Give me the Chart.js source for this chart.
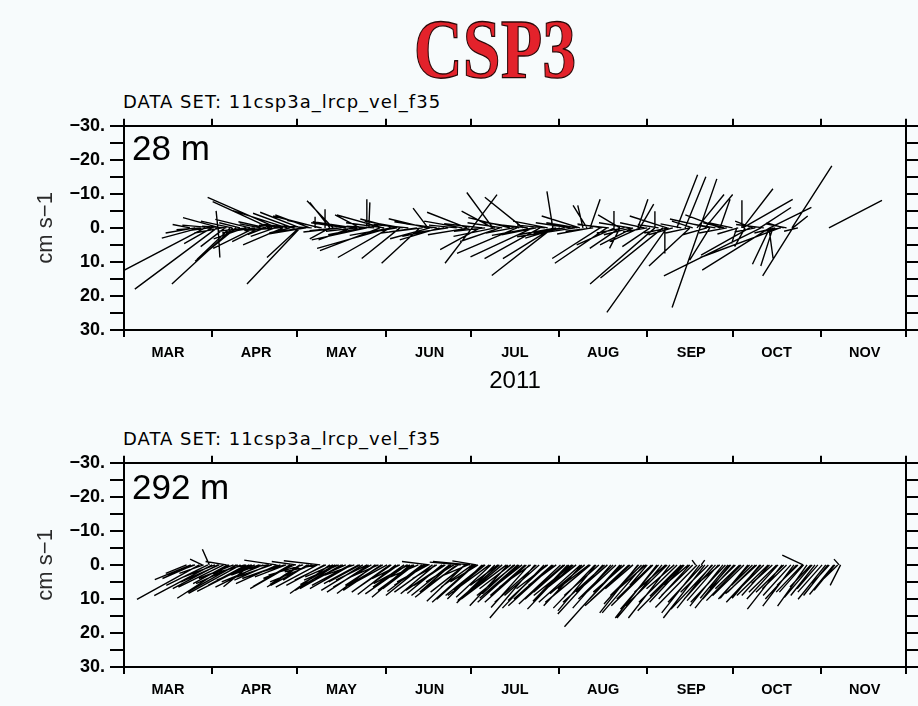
<!DOCTYPE html>
<html>
<head>
<meta charset="utf-8">
<script src="https://cdn.jsdelivr.net/npm/chart.js@4.4.1/dist/chart.umd.min.js"></script>
<style>
html,body{margin:0;padding:0;background:#f7fbfc;}
#page{position:relative;width:918px;height:706px;overflow:hidden;background:#f7fbfc;}
.abs{position:absolute;white-space:nowrap;margin:0;}
#title{left:495px;top:8px;font-family:"Liberation Serif",serif;font-weight:bold;font-size:84px;line-height:84px;color:#e3222b;-webkit-text-stroke:1.3px #2a0808;transform:translateX(-50%) scaleX(0.81);transform-origin:50% 50%;}
.ds{left:123px;font-family:"DejaVu Sans",sans-serif;font-size:18px;line-height:18px;letter-spacing:1px;color:#000;font-weight:normal;}
.depth{left:132px;font-family:"Liberation Sans",Arial,sans-serif;font-size:35px;line-height:35px;color:#000;}
#year{left:515px;top:368px;transform:translateX(-50%);font-family:"Liberation Sans",Arial,sans-serif;font-size:24px;line-height:24px;color:#000;}
canvas{position:absolute;left:0;}
</style>
</head>
<body>
<div id="page">
  <div id="title" class="abs">CSP3</div>
  <div class="abs ds" style="top:93px;">DATA SET: 11csp3a_lrcp_vel_f35</div>
  <div class="abs ds" style="top:430px;">DATA SET: 11csp3a_lrcp_vel_f35</div>
  <canvas id="c1" width="918" height="258" style="top:110px;"></canvas>
  <canvas id="c2" width="918" height="258" style="top:447px;"></canvas>
  <div class="abs depth" style="top:130px;">28 m</div>
  <div class="abs depth" style="top:469px;">292 m</div>
  <div id="year" class="abs">2011</div>
</div>
<script>
// ---- axis definitions (days since 1 Mar 2011) ----
const monthStarts = [0, 31, 61, 92, 122, 153, 184, 214, 245, 275];
const monthLabels = ['MAR','APR','MAY','JUN','JUL','AUG','SEP','OCT','NOV'];
const yTickValues = [-30,-25,-20,-15,-10,-5,0,5,10,15,20,25,30];

// ---- 28 m : stick base day, u (cm/s), v (cm/s, axis units) ----
const topDay = [
28.5,32.7,38.3,61.9,26.7,33.8,53.8,51.3,57.3,61.9,
68.9,33.0,33.1,37.3,55.9,61.5,72.4,30.9,35.5,42.5,
39.4,46.0,47.8,25.0,23.2,40.8,44.3,59.4,65.4,49.6,
53.1,58.4,72.4,73.5,67.2,70.7,85.4,86.1,91.1,85.4,
93.5,90.0,93.5,97.0,104.0,106.9,106.5,120.6,125.2,122.4,
122.4,129.7,140.3,150.8,150.8,138.2,143.8,146.3,150.8,167.4,
169.8,186.7,190.9,162.8,161.4,163.9,160.3,174.4,129.7,135.7,
95.3,83.0,80.0,107.6,111.0,132.2,153.3,158.6,172.6,174.4,
181.4,234.9,247.9,194.4,197.3,202.5,202.5,201.5,204.3,209.6,
217.3,217.6,217.6,223.6,227.1,235.2,180.7,181.4,186.7,190.9,
206.0,209.6,172.3,189.5,199.0,224.0,230.7,227.1,206.0,190.2,
227.1,228.2,235.2,226.8,215.5,218.4,185.0,174.4,179.0,220.0,
30,36,43,48,52,56,63,66,75,78,
82,88,96,100,103,110,114,117,127,133,
137,142,145,148,155,157,165,168,176,178,
184,188,193,196,199,208,212,214,222,225,
231,233,
27,31.5,34.5,38,45.5,50,54.5,60,64,69.5,
76.5,81,84,91.5,94,98,105,108.5,112.5,119,
121.5,126,130.5,139,144,149,152,159.5,164.5,170.5,
178.5,183,191.5,200,205,211,216,221,229,232,
237];
const topU = [
-23.4,-23.7,-17.6,-15.3,-11.0,-10.7,-20.0,-16.5,-15.6,-11.5,
-13.5,-0.5,0.5,-9.5,-11.5,-9.2,-5.8,-8.0,-7.0,-9.0,
-11.8,-12.0,-8.0,-8.5,-5.0,-6.0,-10.0,-11.5,-10.0,-5.0,
-7.0,-6.0,-5.8,-7.5,0.0,0.0,0.0,0.3,-13.3,-15.9,
-21.0,-17.3,-15.0,-11.0,-11.0,-4.3,-11.0,-11.5,-11.5,7.2,
-7.8,-7.5,-11.0,-1.7,-17.6,-17.3,-18.0,-16.0,-14.4,-13.8,
-15.0,-18.7,-17.3,-4.0,-1.5,2.9,-11.0,-6.3,-9.0,-12.0,
-10.0,-7.2,-9.5,-11.5,-11.5,-11.5,-10.0,-16.7,-11.0,-8.7,
-8.7,11.5,15.3,6.0,6.0,4.9,-8.0,7.8,8.0,2.9,
0.0,8.7,14.4,9.0,12.0,4.3,2.9,4.0,0.0,-10.7,
-11.5,-10.0,0.0,-18.0,-11.8,-28.0,-23.0,-19.5,-5.8,0.0,
-5.0,-3.5,-8.7,1.2,-1.5,-3.0,-8.0,-3.0,-9.5,-14.0,
-6,-7,-8,-6,-9,-7,-8,-9,-8,-10,
-9,-8,-9,-10,-8,-9,-10,-8,-9,-10,
-8,-9,-10,-8,-9,-10,-8,-7,-8,-9,
-7,-6,-7,-6,-7,-6,-8,-7,-6,-8,
-5,-6,
-7,-9,-8,-9,-9,-8,-10,-9,-11,-10,
-11,-12,-10,-11,-12,-11,-12,-11,-12,-11,
-12,-11,-12,-11,-12,-10,-11,-9,-10,-9,
-8,-7,-7,-6,-7,-6,-6,-5,-6,-5,
-4];
const topV = [
12.5,18.0,16.5,16.5,3.0,-3.0,-9.0,-7.7,-5.1,-4.6,
-3.5,-5.0,8.7,9.2,5.0,8.7,-7.5,4.6,5.5,3.2,
9.8,6.0,4.0,1.5,-1.0,-1.5,-2.5,-4.3,-3.8,2.0,
2.5,1.5,3.2,-8.0,-3.3,-5.5,-8.4,-7.5,-3.8,3.5,
6.0,6.7,8.7,9.0,10.4,-5.8,-2.7,-4.6,6.4,-9.8,
10.4,-10.4,-9.0,-10.7,14.0,7.5,8.5,9.0,9.0,9.0,
10.4,16.5,24.8,-6.6,-6.6,-8.4,-3.5,-3.8,-4.9,-3.0,
-2.6,-3.8,3.5,3.2,3.5,4.0,3.0,2.6,5.0,6.0,
4.0,-18.2,-8.1,-15.6,-15.0,-14.4,23.4,-9.8,-9.8,-8.4,
-8.1,-11.5,-8.4,-6.0,-6.0,-3.5,-8.4,-7.0,-4.9,-3.5,
-2.6,-3.8,-5.0,14.7,11.2,14.1,8.7,12.4,9.5,7.5,
10.7,11.2,14.1,9.0,4.6,5.5,5.5,6.0,5.0,8.0,
0.8,-0.5,1.0,-1.2,0.5,-0.8,1.2,-0.6,0.8,-1.5,
1.0,-0.5,1.5,-1.0,1.2,-1.2,1.5,-0.8,1.0,-1.5,
1.5,-1.0,2.0,-0.8,1.5,-1.5,1.0,-1.2,1.5,-1.5,
1.2,-1.0,2.0,-1.2,1.5,-1.0,1.5,-1.5,1.2,-1.0,
1.0,-1.2,
0.5,-0.8,1.5,-2,1.5,-1.8,0.8,-1,1.8,-2.2,
1.2,-1.8,2,-1.5,2.2,-2,1.5,-1.8,2.5,-2,
2,-1.2,2.5,-1.8,2.2,-2,2,-1.5,1.8,-1,
2,-1.5,1.5,-2,2,-1.5,1.8,-2,1.5,-1.5,
1.0];

// ---- 292 m ----
const botDay = [
22.0,23.5,25.0,26.5,27.5,30.0,29.5,31.0,32.0,33.5,
35.0,37.0,38.5,40.0,41.0,42.5,44.0,44.5,46.0,47.5,
49.0,50.5,52.0,53.5,55.0,56.5,58.4,60.0,61.9,63.0,
64.5,66.0,67.5,69.0,70.5,72.4,73.5,74.2,75.5,76.5,
78.0,79.5,81.0,82.5,84.0,85.5,87.0,88.3,89.5,91.0,
92.5,94.0,95.6,97.0,98.5,100.0,100.6,102.0,103.5,104.8,
106.0,107.5,108.5,110.0,111.8,113.0,114.5,116.0,117.5,118.5,
119.9,121.0,122.5,123.4,124.5,125.9,127.0,128.5,130.4,131.5,
133.0,134.5,136.0,137.5,138.5,140.0,141.5,143.0,144.5,146.0,
147.7,149.0,150.5,152.0,153.5,155.0,156.0,157.5,159.0,160.5,
162.0,163.5,165.6,167.0,168.4,170.0,171.2,173.0,174.4,176.0,
177.5,179.0,180.7,182.0,182.8,184.0,185.5,187.4,189.2,190.5,
192.0,193.5,195.9,197.0,198.5,200.0,201.0,202.5,203.0,204.3,
205.5,206.7,208.0,209.5,210.6,212.4,213.0,213.4,215.0,216.5,
218.0,219.4,221.0,222.5,223.6,225.0,226.5,228.0,229.5,231.4,
233.0,234.5,235.6,237.0,238.5,238.8,240.2,241.5,243.0,245.5,
246.8,248.0,249.6,251.0,251.5,121.7,124.0,252.0,36.0,60.5,
24.5,28,33,36.5,39.5,43,45,48,51,54,
57,59,62.5,65,68,71,74.8,77,80,83,
86,88.8,90.5,93.5,96.5,99.5,101.5,105.5,107,109.5,
112.5,115,117,120,123,126.5,129,132,135,137,
139,141,142.5,145,148.5,151,154.5,156.5,158,161,
164,166,169,172,175,178,181,183.5,186,188,
191,194.5,196.5,199,201.5,203.5,207,209,211.5,214.5,
217,220,222,224,227,230,232,236.5,239,242,
244,247.5,250];
const botU = [
-6.0,-10.4,-8.0,-18.0,-3.5,-2.0,-12.0,-16.7,-9.0,-11.0,
-13.0,-15.0,-10.0,-12.0,-15.0,-9.0,-15.0,-7.8,-11.0,-8.0,
-12.0,-9.0,-10.0,-9.2,-11.0,-8.0,-10.7,-9.0,-8.7,-10.0,
-7.0,-12.0,-9.0,-10.5,-11.0,-11.5,-8.0,-10.0,-10.0,-12.0,
-9.0,-11.0,-8.5,-10.0,-12.0,-9.0,-11.0,-11.0,-8.0,-10.0,
-9.0,-10.0,-11.0,-8.0,-9.0,-10.0,-11.0,-9.0,-8.0,-10.0,
-9.0,-8.0,-11.0,-7.0,-10.0,-9.0,-11.0,-8.0,-10.0,-9.0,
-11.0,-7.0,-9.0,-11.0,-8.0,-10.0,-9.0,-12.0,-11.0,-8.0,
-10.0,-13.0,-9.0,-11.0,-11.0,-10.0,-12.0,-9.0,-13.0,-10.0,
-12.0,-9.0,-11.0,-8.0,-12.0,-9.0,-10.0,-11.0,-8.0,-12.0,
-10.0,-9.0,-12.0,-10.0,-13.0,-9.0,-11.0,-10.0,-16.0,-9.0,
-11.0,-8.0,-11.0,-9.0,-12.0,-5.0,-10.0,-12.0,-13.0,-9.0,
-12.0,-8.0,-9.0,-10.0,-7.0,-9.0,-1.0,-11.0,1.0,-12.0,
-8.0,-10.0,-9.0,-7.0,-9.5,-8.0,-10.0,-6.0,-8.0,-7.0,
-9.0,-8.0,-6.0,-9.0,-8.0,-7.0,-9.0,-6.0,-8.0,-10.0,
-7.0,-8.0,-9.0,-6.0,-7.5,-6.0,-8.5,-6.0,-7.0,-7.0,
-8.0,-5.0,-7.0,-4.0,-1.5,-10.7,-7.0,-3.0,-6.0,-7.0,
-9,-7,-13,-10,-14,-11,-9,-13,-10,-12,
-9,-12,-10,-11,-12,-9,-12,-10,-12,-9,
-12,-9,-11,-11,-9,-12,-10,-11,-9,-10,
-11,-9,-12,-10,-12,-11,-10,-12,-11,-9,
-12,-10,-11,-12,-11,-13,-11,-12,-10,-11,
-13,-11,-12,-10,-12,-13,-10,-9,-12,-11,
-12,-11,-13,-9,-12,-10,-12,-9,-10,-9,
-10,-9,-8,-10,-8,-9,-8,-9,-7,-8,
-6,-7,-6];
const botV = [
2.5,4.3,3.0,10.1,-1.7,-4.6,6.0,9.0,3.5,5.0,
6.5,9.8,4.0,5.5,8.4,2.5,7.8,6.4,4.5,3.0,
5.0,1.5,3.5,-1.4,4.0,2.5,6.4,4.0,5.8,3.0,
4.5,5.0,2.0,-1.2,6.0,8.4,3.5,5.8,4.5,7.0,
4.0,6.0,3.0,5.5,7.5,4.5,6.5,8.4,3.5,6.0,
5.0,7.0,8.7,4.0,6.5,5.5,9.5,7.0,3.5,7.8,
6.0,-1.0,8.0,4.0,8.4,6.0,9.0,5.0,7.0,-0.8,
10.7,3.0,6.5,10.1,5.0,10.0,7.5,9.0,11.2,6.0,
8.5,10.0,7.0,9.0,9.8,8.0,11.0,6.5,15.6,9.0,
12.7,7.0,10.0,6.0,11.5,8.0,10.7,9.0,6.5,11.0,
8.5,7.0,12.7,9.0,14.4,8.0,12.7,9.5,18.2,8.0,
10.5,7.0,14.1,9.0,14.1,6.0,10.0,15.6,15.6,8.0,
15.6,7.0,9.2,11.0,6.0,9.0,-1.4,14.1,-1.4,15.6,
8.0,12.7,10.0,6.0,12.1,9.8,12.7,6.9,8.0,7.0,
9.0,9.8,6.0,8.5,9.8,7.0,9.0,5.5,8.0,13.0,
7.0,9.0,12.1,6.0,8.0,-2.9,12.1,6.5,9.0,8.0,
10.1,5.5,8.7,4.0,-1.7,-1.0,-1.2,6.0,-1.0,-1.0,
4,2.5,7,5.5,8,6,4,6.5,4.5,5.5,
3.5,7,6.5,6,6.5,4.5,7.5,5.5,7,5,
8,6,7.5,8,6.5,8.5,7.5,9,5,8.5,
7.5,8,9.5,8,11,9,9.5,10.5,12,8.5,
11,9,12.5,11,10.5,12,10,13,9,12,
11,13.5,11,10,13,12,11.5,8,12,13,
12,11,13.5,10,12.5,11,13,10.5,11,10,
10.5,10,8,11,9,10,8,10,8,9.5,
7,9,7.5];

// aspect factor: days per cm/s, so a stick keeps equal x/y scaling on screen
const STICK_K = (208 / 60) / (782 / 275);

function stickPoints(day, u, v) {
  const n = Math.min(day.length, u.length, v.length);
  const pts = [];
  for (let i = 0; i < n; i++) {
    pts.push({x: day[i], y: 0});
    pts.push({x: day[i] + u[i] * STICK_K, y: v[i]});
    pts.push({x: day[i], y: null});
  }
  return pts;
}

function yLabel(v) {
  if (v % 10 !== 0) return '';
  if (v === 0) return '0.';
  return (v < 0 ? '\u2212' : '') + Math.abs(v) + '.';
}

const blackGrid = (len) => ({drawOnChartArea: false, drawTicks: true, tickLength: len, color: '#000', lineWidth: 2});
const blackBorder = {display: true, color: '#000', width: 2};

function makeChart(id, day, u, v) {
  const ctx = document.getElementById(id).getContext('2d');
  return new Chart(ctx, {
    type: 'line',
    data: {
      datasets: [{
        data: stickPoints(day, u, v),
        borderColor: '#000',
        borderWidth: 1.4,
        pointRadius: 0,
        pointHoverRadius: 0,
        spanGaps: false,
        tension: 0,
        fill: false,
        xAxisID: 'x',
        yAxisID: 'y'
      }]
    },
    options: {
      responsive: false,
      animation: false,
      events: [],
      layout: {padding: 0},
      plugins: {legend: {display: false}, tooltip: {enabled: false}, title: {display: false}},
      scales: {
        x: {
          type: 'linear', position: 'bottom', min: 0, max: 275,
          afterBuildTicks: s => { s.ticks = monthStarts.map(m => ({value: m})); },
          ticks: {
            autoSkip: false, maxRotation: 0, minRotation: 0, padding: 7, labelOffset: 44,
            color: '#000',
            font: {family: 'Liberation Sans', weight: 'bold', size: 14.5},
            callback: (val, idx) => monthLabels[idx] || ''
          },
          grid: blackGrid(7),
          border: blackBorder,
          afterFit: s => { s.height = 38; }
        },
        xTop: {
          type: 'linear', position: 'top', min: 0, max: 275,
          afterBuildTicks: s => { s.ticks = monthStarts.map(m => ({value: m})); },
          ticks: {display: false},
          grid: blackGrid(7),
          border: blackBorder,
          afterFit: s => { s.height = 12; }
        },
        y: {
          type: 'linear', position: 'left', reverse: true, min: -30, max: 30,
          afterBuildTicks: s => { s.ticks = yTickValues.map(t => ({value: t})); },
          ticks: {
            autoSkip: false, padding: 5, color: '#000',
            font: {family: 'Liberation Sans', weight: 'bold', size: 18},
            callback: val => yLabel(val)
          },
          grid: blackGrid(14),
          border: blackBorder,
          title: {display: true, text: 'cm s\u22121', color: '#2a2a2a',
                  font: {family: 'Liberation Sans', size: 22}, padding: {top: 33, bottom: 0}},
          afterFit: s => { s.width = 124; }
        },
        yRight: {
          type: 'linear', position: 'right', reverse: true, min: -30, max: 30,
          afterBuildTicks: s => { s.ticks = yTickValues.map(t => ({value: t})); },
          ticks: {display: false},
          grid: blackGrid(12),
          border: blackBorder,
          afterFit: s => { s.width = 12; }
        }
      }
    }
  });
}

makeChart('c1', topDay, topU, topV);
makeChart('c2', botDay, botU, botV);
</script>
</body>
</html>
